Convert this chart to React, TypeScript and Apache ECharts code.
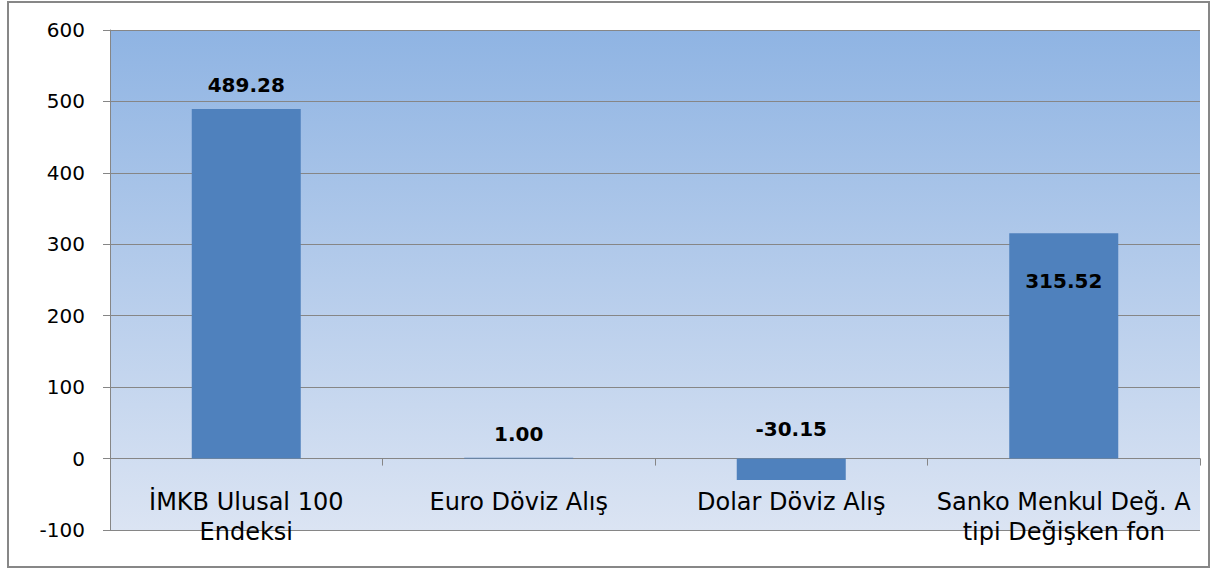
import React, { useEffect, useRef } from "react";
import * as echarts from "echarts";

const categories = [
  "İMKB Ulusal 100\nEndeksi",
  "Euro Döviz Alış",
  "Dolar Döviz Alış",
  "Sanko Menkul Değ. A\ntipi Değişken fon",
];
const values = [489.28, 1.0, -30.15, 315.52];
const yMin = -100;
const yMax = 600;
const yInterval = 100;

const FONT = "DejaVu Sans";
const GRID_COLOR = "#868686";

export default function App() {
  const ref = useRef<HTMLDivElement>(null);
  useEffect(() => {
    if (!ref.current) return;
    const chart = echarts.init(ref.current, undefined, { renderer: "svg" });
    const labelFor = (i: number) => {
      if (i === 3) return { position: "insideTop", distance: 38 };
      if (i === 2) return { position: "top", distance: 20 };
      return { position: "top", distance: 14 };
    };
    chart.setOption({
      animation: false,
      backgroundColor: "#ffffff",
      graphic: [
        {
          type: "rect",
          z: -10,
          silent: true,
          shape: { x: 8, y: 2, width: 1201, height: 565 },
          style: { fill: "#ffffff", stroke: "#878787", lineWidth: 2 },
        },
      ],
      grid: {
        left: 110,
        right: 13,
        top: 30,
        bottom: 41,
        show: true,
        borderWidth: 0,
        containLabel: false,
        outerBoundsMode: "none",
        backgroundColor: new echarts.graphic.LinearGradient(0, 0, 0, 1, [
          { offset: 0, color: "#8fb4e3" },
          { offset: 1, color: "#dbe4f3" },
        ]),
      },
      xAxis: {
        type: "category",
        data: categories,
        axisLine: { show: true, onZero: true, lineStyle: { color: GRID_COLOR, width: 1 } },
        axisTick: { show: true, interval: 0, length: 7, lineStyle: { color: GRID_COLOR } },
        axisLabel: {
          interval: 0,
          margin: -43,
          fontFamily: FONT,
          fontSize: 24,
          lineHeight: 30,
          color: "#000",
        },
      },
      yAxis: {
        type: "value",
        min: yMin,
        max: yMax,
        interval: yInterval,
        axisLine: { show: true, lineStyle: { color: GRID_COLOR, width: 1 } },
        axisTick: { show: true, length: 7, lineStyle: { color: GRID_COLOR } },
        axisLabel: { margin: 25, fontFamily: FONT, fontSize: 20, color: "#000" },
        splitLine: { show: true, lineStyle: { color: GRID_COLOR, width: 1 } },
      },
      series: [
        {
          type: "bar",
          barWidth: "40%",
          itemStyle: { color: "#4f81bd" },
          data: values.map((v, i) => ({
            value: v,
            label: {
              show: true,
              ...labelFor(i),
              formatter: (p: any) => Number(p.value).toFixed(2),
              fontFamily: FONT,
              fontWeight: "bold",
              fontSize: 20,
              color: "#000",
            },
          })),
        },
      ],
    });
    return () => chart.dispose();
  }, []);
  return (
    <div
      ref={ref}
      style={{ position: "fixed", left: 0, top: 0, width: 1213, height: 571 }}
    />
  );
}
